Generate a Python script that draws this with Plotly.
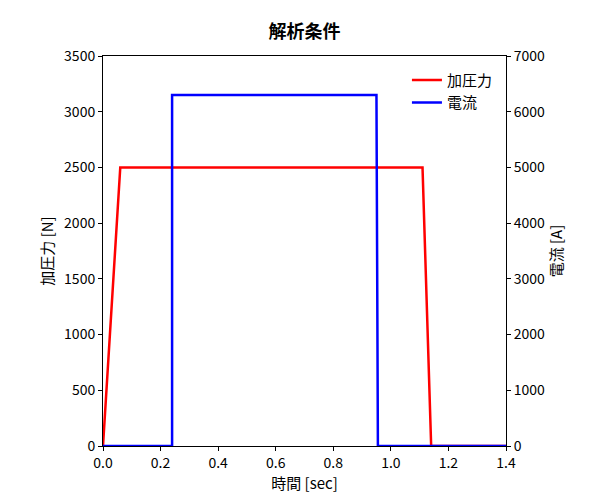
import plotly.graph_objects as go

# 加圧力 [N]
force_t = [0, 0.06, 1.11, 1.14, 1.4]
force_v = [0, 2500, 2500, 0, 0]

# 電流 [A]
current_t = [0, 0.24, 0.24, 0.95, 0.955, 1.4]
current_v = [0, 0, 6300, 6300, 0, 0]

font = "Noto Sans CJK JP"

fig = go.Figure()
fig.add_trace(go.Scatter(x=force_t, y=force_v, mode="lines", name="加圧力",
                         line=dict(color="#ff0000", width=2.5)))
fig.add_trace(go.Scatter(x=current_t, y=current_v, mode="lines", name="電流",
                         line=dict(color="#0000ff", width=2.5), yaxis="y2"))

axis_common = dict(showgrid=False, zeroline=False, showline=True, linecolor="#000",
                   linewidth=1, ticks="outside", ticklen=4, tickcolor="#000",
                   automargin=False, tickfont=dict(size=14, color="#000"))

fig.update_layout(
    width=593, height=500,
    font=dict(family=font, color="#000"),
    title=dict(text="<b>解析条件</b>", x=0.5, xanchor="center", y=0.965,
               font=dict(size=18), automargin=False),
    plot_bgcolor="white", paper_bgcolor="white",
    margin=dict(l=95, r=95, t=48, b=62, autoexpand=False),
    xaxis=dict(range=[0, 1.4], dtick=0.2, tickformat=".1f",
               title=dict(text="時間 [sec]", font=dict(size=15), standoff=6),
               mirror=True, **axis_common),
    yaxis=dict(range=[0, 3500], dtick=500,
               title=dict(text="加圧力 [N]", font=dict(size=15), standoff=6),
               **axis_common),
    yaxis2=dict(range=[0, 7000], dtick=1000, overlaying="y", side="right",
                title=dict(text="電流 [A]", font=dict(size=15), standoff=6),
                **axis_common),
    legend=dict(x=0.98, y=0.98, xanchor="right", yanchor="top",
                bgcolor="rgba(0,0,0,0)", font=dict(size=15)),
    showlegend=True,
)

fig.write_html("out.html")
